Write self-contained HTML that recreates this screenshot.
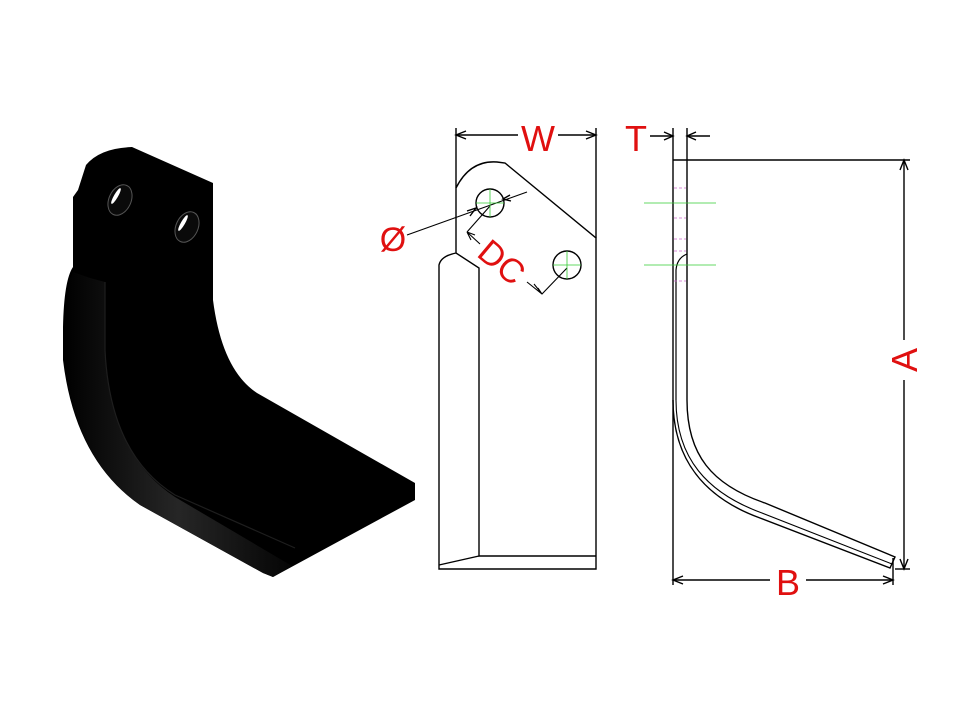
<!DOCTYPE html>
<html><head><meta charset="utf-8"><style>
html,body{margin:0;padding:0;background:#fff;}
svg{display:block}
text{font-family:"Liberation Sans",sans-serif;fill:#e01010}
</style></head><body>
<svg width="960" height="720" viewBox="0 0 960 720" xmlns="http://www.w3.org/2000/svg">
<defs>
<linearGradient id="g1" x1="0" y1="0" x2="1" y2="0">
<stop offset="0" stop-color="#000"/><stop offset="0.5" stop-color="#262626"/><stop offset="1" stop-color="#050505"/>
</linearGradient>
</defs>
<!-- 3D blade -->
<path d="M78,190 L86,165 Q100,148 132,147 L213,183 L213,300 Q222,370 257,393 L415,483 L415,500 L273,577 L263,573 L140,505 Q75,460 63,360 L63,327 Q64,280 73,267 L73,197 Z" fill="#000"/>
<path d="M73,272 Q64,290 64,330 L64,360 Q76,460 140,505 L263,573 L273,577 L292,566 L175,497 Q110,455 105,350 L105,282 L90,278 Z" fill="url(#g1)"/>
<path d="M105,282 L105,350 Q110,455 175,495 L295,548" fill="none" stroke="#1e1e1e" stroke-width="1.2"/>
<ellipse cx="120" cy="200" rx="11" ry="16" transform="rotate(25 120 200)" fill="#0a0a0a" stroke="#555"/>
<ellipse cx="116" cy="196" rx="2" ry="9" transform="rotate(30 116 196)" fill="#fff"/>
<ellipse cx="187" cy="227" rx="11" ry="16" transform="rotate(25 187 227)" fill="#0a0a0a" stroke="#555"/>
<ellipse cx="183" cy="223" rx="2" ry="9" transform="rotate(30 183 223)" fill="#fff"/>

<!-- Front view -->
<g fill="none" stroke="#000" stroke-width="1.4">
<path d="M456,253 L456,188 Q470,160 497,162 L505,163 L596,238 L596,569 L439,569 L439,265 Q441,256 456,253 L479,268 L479,556 L596,556"/>
<path d="M439,565 L479,556"/>
<line x1="456" y1="128" x2="456" y2="188"/>
<line x1="596" y1="128" x2="596" y2="238"/>
<line x1="456" y1="135" x2="518" y2="135"/>
<line x1="558" y1="135" x2="596" y2="135"/>
<path d="M466,131 L456,135 L466,139 M586,131 L596,135 L586,139"/>
<circle cx="490" cy="203" r="14"/>
<circle cx="567" cy="265" r="14"/>
<line x1="407" y1="235" x2="527" y2="192" stroke-width="1.1"/>
<path d="M467,211 L476,208 L470,216" />
<path d="M510,195 L503,199 L511,201"/>
<path d="M490,206 L467,232" stroke-width="1.1"/>
<path d="M467,232 L480,244 M467,232 L471,240 M467,232 L475,235" stroke-width="1.1"/>
<path d="M567,268 L542,294 L527,282 M542,294 L534,284 M542,294 L538,288" stroke-width="1.1"/>
</g>
<g stroke="#3c3" stroke-width="0.8">
<line x1="476" y1="203" x2="504" y2="203"/><line x1="490" y1="189" x2="490" y2="217"/>
<line x1="553" y1="265" x2="581" y2="265"/><line x1="567" y1="251" x2="567" y2="279"/>
</g>
<text x="538" y="151" font-size="36" text-anchor="middle">W</text>
<text x="393" y="251" font-size="34" text-anchor="middle">Ø</text>
<text x="502" y="274" font-size="34" text-anchor="middle" transform="rotate(40 502 262)">DC</text>

<!-- Side view -->
<g fill="none" stroke="#000" stroke-width="1.4">
<line x1="673" y1="128" x2="673" y2="400"/>
<line x1="687" y1="128" x2="687" y2="400"/>
<line x1="673" y1="160" x2="910" y2="160"/>
<path d="M687,400 C687,455 712,485 765,503 L895,557 L890,568 L760,518 C705,498 673,460 673,400"/>
<path d="M676,400 C676,458 707,493 762,513 L892,564" stroke-width="1.1"/>
<path d="M676,400 L676,270 Q677,258 687,254" stroke-width="1.2"/>
<line x1="650" y1="136" x2="673" y2="136"/>
<line x1="687" y1="136" x2="710" y2="136"/>
<path d="M664,132 L673,136 L664,140 M696,132 L687,136 L696,140"/>
<line x1="904" y1="160" x2="904" y2="340"/>
<line x1="904" y1="380" x2="904" y2="569"/>
<line x1="895" y1="569" x2="910" y2="569"/>
<path d="M900,170 L904,160 L908,170 M900,559 L904,569 L908,559"/>
<line x1="893" y1="558" x2="893" y2="585"/>
<line x1="673" y1="400" x2="673" y2="585"/>
<line x1="673" y1="580" x2="770" y2="580"/>
<line x1="806" y1="580" x2="893" y2="580"/>
<path d="M683,576 L673,580 L683,584 M883,576 L893,580 L883,584"/>
</g>
<g stroke="#3c3" stroke-width="0.8">
<line x1="644" y1="203" x2="716" y2="203"/><line x1="644" y1="265" x2="716" y2="265"/>
</g>
<g stroke="#c6c" stroke-width="0.8" stroke-dasharray="3,2">
<line x1="674" y1="188" x2="686" y2="188"/><line x1="674" y1="218" x2="686" y2="218"/>
<line x1="674" y1="239" x2="686" y2="239"/><line x1="674" y1="251" x2="686" y2="251"/>
<line x1="674" y1="281" x2="686" y2="281"/>
</g>
<text x="636" y="151" font-size="36" text-anchor="middle">T</text>
<text x="788" y="595" font-size="36" text-anchor="middle">B</text>
<text x="905" y="372" font-size="36" text-anchor="middle" transform="rotate(-90 905 360)">A</text>
</svg>
</body></html>
